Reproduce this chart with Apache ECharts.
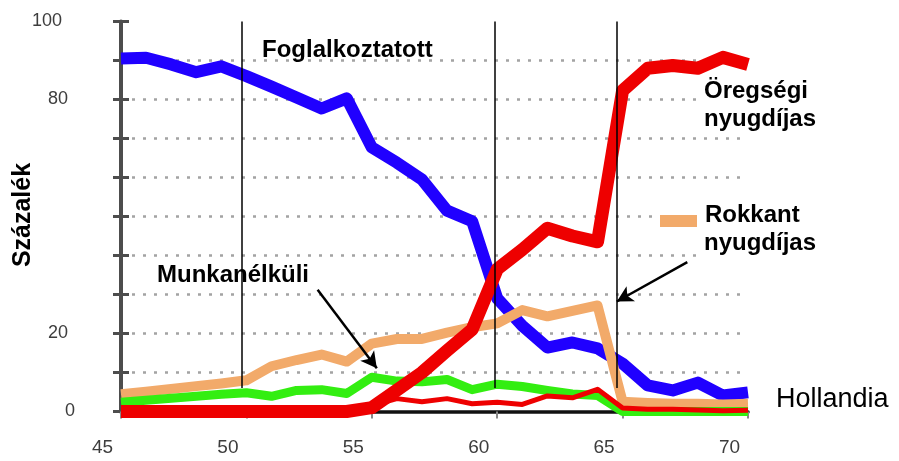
<!DOCTYPE html>
<html lang="hu">
<head>
<meta charset="utf-8">
<title>Hollandia</title>
<script src="https://cdn.jsdelivr.net/npm/echarts@6/dist/echarts.min.js"></script>
<style>
  html, body { margin: 0; padding: 0; background: #fff; }
  #chart { width: 899px; height: 461px; }
</style>
</head>
<body>
<div id="chart"></div>
<script>
// életkor (év) és az egyes státuszok aránya (%)
const ages = [45, 46, 47, 48, 49, 50, 51, 52, 53, 54, 55, 56, 57, 58, 59, 60, 61, 62, 63, 64, 65, 66, 67, 68, 69, 70]
const foglalkoztatott = [90.5, 90.7, 89, 87, 88.5, 86, 83.3, 80.5, 77.7, 80.3, 67.7, 63.8, 59.5, 51.5, 48.8, 29, 22, 16.4, 17.7, 16.2, 12.3, 6.7, 5.4, 7.4, 4.1, 4.9]
const rokkant = [4.4, 5.1, 5.8, 6.5, 7.2, 8, 11.6, 13.2, 14.6, 12.8, 17.4, 18.6, 18.6, 20.2, 21.6, 22.6, 26, 24.4, 25.8, 27.2, 2.5, 2.2, 2, 2, 1.8, 2]
const munkanelkuli = [2.4, 2.9, 3.4, 3.9, 4.4, 4.8, 3.9, 5.4, 5.6, 4.6, 8.8, 7.8, 7.6, 8.2, 5.6, 7, 6.4, 5.4, 4.5, 4.1, 0, 0, 0, 0, 0, 0]
const egyeb = [0.5, 0.5, 0.5, 0.5, 0.5, 0.5, 0.5, 0.5, 0.5, 0.5, 1.5, 3.3, 2.5, 3.3, 2, 2.4, 1.8, 4, 3.5, 5.7, 0.9, 0.6, 0.6, 0.4, 0.2, 0.3]
const oregsegi = [0, 0, 0, 0, 0, 0, 0, 0, 0, 0, 1, 5.5, 10, 15.6, 21, 36.5, 41.5, 47, 45, 43.5, 82.3, 88, 88.7, 88, 90.8, 89]

// tengelyfeliratok
const yLabels = [0, 20, 80, 100]

// függőleges segédvonalak (életkor) és nyilak [kezdet, hegy]
const vLines = [49.81, 59.91, 64.76]
const vLineRange = [6, 100]
const arrows = [
  [[52.84, 31.2], [55.2, 11.1]],
  [[67.58, 38.3], [64.77, 28.2]],
]

const FONT = "'Liberation Sans', Arial, sans-serif"
const ORANGE = '#f2aa6a'

const pairs = (vals) => ages.map((a, i) => [a, vals[i]])

const lineSeries = (name, vals, color, width) => ({
  name,
  type: 'line',
  data: pairs(vals),
  symbol: 'none',
  silent: true,
  animation: false,
  lineStyle: { color, width, join: 'round' },
})

const chart = echarts.init(document.getElementById('chart'), null, { renderer: 'canvas' })

const yTickLabel = (v) => {
  if (!yLabels.includes(v)) return ''
  const key = v === 100 ? 'w' : v === 0 ? 'n' : 'm'
  return '{' + key + '|' + v + '}'
}
const yRich = {
  w: { fontSize: 18, fontFamily: FONT, color: '#3d3d3d', padding: [0, 13, 0, 0] },
  m: { fontSize: 18, fontFamily: FONT, color: '#3d3d3d', padding: [0, 7, 0, 0] },
  n: { fontSize: 18, fontFamily: FONT, color: '#3d3d3d' },
}

const text = (str, x, y, size, weight, extra) => ({
  type: 'text',
  z: 20,
  x,
  y,
  ...extra,
  style: {
    text: str,
    fill: '#000',
    font: weight + ' ' + size + 'px ' + FONT,
    align: 'left',
    verticalAlign: 'middle',
    ...(extra && extra.style),
  },
})

const blackLine = (width) => ({ color: '#000', width, type: 'solid' })

const option = {
  backgroundColor: '#fff',
  animation: false,
  grid: { left: 121, right: 151, top: 21.5, bottom: 49.5 },
  xAxis: {
    type: 'value',
    min: 45,
    max: 70,
    interval: 5,
    axisLine: { show: true, lineStyle: { color: '#111', width: 3.5 } },
    axisTick: { show: true, length: 7, lineStyle: { color: '#888', width: 2 } },
    axisLabel: {
      fontSize: 19,
      fontFamily: FONT,
      color: '#3d3d3d',
      margin: 27,
      padding: [0, 37, 0, 0],
    },
    splitLine: { show: false },
  },
  yAxis: [
    {
      type: 'value',
      min: 0,
      max: 100,
      interval: 10,
      axisLine: { show: true, lineStyle: { color: '#4d4d4d', width: 4 } },
      axisTick: { show: true, length: 8, lineStyle: { color: '#4d4d4d', width: 3 } },
      axisLabel: { margin: 46, formatter: yTickLabel, rich: yRich },
      splitLine: {
        show: true,
        showMinLine: false,
        showMaxLine: false,
        lineStyle: { color: '#a3a3a3', width: 2.5, type: [3, 8] },
      },
    },
    {
      type: 'value',
      min: 0,
      max: 100,
      interval: 10,
      position: 'left',
      axisLine: { show: false },
      axisTick: { show: true, inside: true, length: 8, lineStyle: { color: '#4d4d4d', width: 3 } },
      axisLabel: { show: false },
      splitLine: { show: false },
    },
  ],
  series: [
    lineSeries('Foglalkoztatott', foglalkoztatott, '#2000ff', 12),
    lineSeries('Rokkant nyugdíjas', rokkant, ORANGE, 10),
    lineSeries('Munkanélküli', munkanelkuli, '#33ee11', 9),
    lineSeries('Egyéb', egyeb, '#ee0000', 5),
    lineSeries('Öregségi nyugdíjas', oregsegi, '#ee0000', 13),
    {
      name: 'jelölések',
      type: 'line',
      data: [],
      z: 10,
      clip: false,
      silent: true,
      markLine: {
        silent: true,
        animation: false,
        symbol: 'none',
        label: { show: false },
        lineStyle: blackLine(1.5),
        data: [
          ...vLines.map((x) => [
            { coord: [x, vLineRange[0]], lineStyle: blackLine(1.5) },
            { coord: [x, vLineRange[1]], lineStyle: blackLine(1.5) },
          ]),
          ...arrows.map(([a, b]) => [
            { coord: a, symbol: 'none', lineStyle: blackLine(2.5) },
            { coord: b, symbol: 'arrow', symbolSize: [13, 16], lineStyle: blackLine(2.5) },
          ]),
        ],
      },
    },
  ],
  graphic: [
    { type: 'rect', z: 1, shape: { x: 700, y: 80, width: 115, height: 56 }, style: { fill: '#fff' } },
    { type: 'rect', z: 1, shape: { x: 652, y: 203, width: 163, height: 29 }, style: { fill: '#fff' } },
    { type: 'rect', z: 1, shape: { x: 700, y: 232, width: 115, height: 30 }, style: { fill: '#fff' } },
    { type: 'rect', z: 20, shape: { x: 660, y: 215, width: 37, height: 12 }, style: { fill: ORANGE } },
    text('Foglalkoztatott', 262, 50, 24, 'bold'),
    text('Munkanélküli', 157, 275, 24, 'bold'),
    text('Öregségi', 704, 91.5, 24, 'bold'),
    text('nyugdíjas', 704, 119.5, 24, 'bold'),
    text('Rokkant', 705, 215, 24, 'bold'),
    text('nyugdíjas', 704, 243.5, 24, 'bold'),
    text('Hollandia', 776, 400, 27, 'normal'),
    text('Százalék', 23, 215, 25, 'bold', { rotation: Math.PI / 2, style: { align: 'center' } }),
  ],
}

chart.setOption(option)
</script>
</body>
</html>
